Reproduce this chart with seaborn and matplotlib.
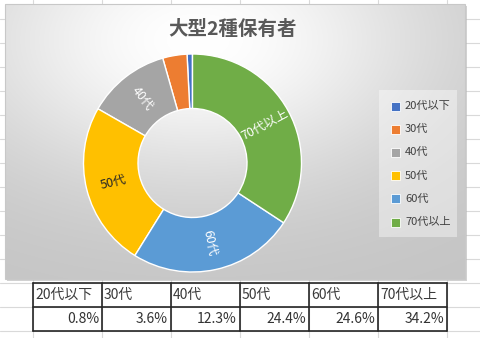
import numpy as np
import matplotlib
matplotlib.use('Agg')
import matplotlib.pyplot as plt
import seaborn as sns
from matplotlib.patches import Rectangle

# ---- data ----
categories = ['20代以下', '30代', '40代', '50代', '60代', '70代以上']
shares = [0.8, 3.6, 12.3, 24.4, 24.6, 34.2]
value_labels = ['0.8%', '3.6%', '12.3%', '24.4%', '24.6%', '34.2%']
title = '大型2種保有者'
colors = ['#4472C4', '#ED7D31', '#A5A5A5', '#FFC000', '#5B9BD5', '#70AD47']
inner_label_colors = [None, None, 'white', '#262626', 'white', 'white']

sns.set_style('white')
plt.rcParams['font.family'] = ['Noto Sans CJK JP', 'DejaVu Sans']
palette = sns.color_palette(colors)

W, H = 480, 338
fig = plt.figure(figsize=(4.8, 3.38), dpi=100)
fig.patch.set_facecolor('white')
bg = fig.add_axes([0, 0, 1, 1])
bg.axis('off')

# Excel cell grid
for x in range(33, W, 69):
    bg.plot([x, x], [0, H], color='#d9d9d9', lw=0.8, zorder=0)
for y in range(19, H, 24):
    bg.plot([0, W], [y, y], color='#d9d9d9', lw=0.8, zorder=0)

# chart area with radial gradient
x0, y0, x1, y1 = 5, 4, 465, 279
bg.add_patch(Rectangle((x0 + 1.5, y0 + 1.5), x1 - x0, y1 - y0, facecolor='#b5b5b5',
                       edgecolor='none', alpha=0.6, zorder=1))
gx = np.linspace(0, 1, 460)
gy = np.linspace(0, 1, 275)
GX, GY = np.meshgrid(gx, gy)
d = np.sqrt((GX - 0.42) ** 2 + (GY - 0.13) ** 2)
val = 0.77 + 0.23 * np.exp(-(d / 0.52) ** 2)
img = np.dstack([val, val, val])
bg.imshow(img, extent=(x0, x1, y1, y0), origin='upper', aspect='auto', zorder=2,
          interpolation='bilinear')
bg.add_patch(Rectangle((x0, y0), x1 - x0, y1 - y0, facecolor='none',
                       edgecolor='#c8c8c8', lw=0.8, zorder=3))
bg.set_xlim(0, W)
bg.set_ylim(H, 0)

# title
bg.text(233, 29, title, ha='center', va='center', fontsize=14, fontweight='bold',
        color='#595959', zorder=5)

# legend (drawn from categories/colors)
bg.add_patch(Rectangle((379, 90), 78, 147, facecolor='white', alpha=0.4,
                       edgecolor='none', zorder=4))
for i, (cat, col) in enumerate(zip(categories, palette)):
    yy = 106 + 23.2 * i
    bg.add_patch(Rectangle((391, yy - 4.5), 9, 9, facecolor=col, edgecolor='white',
                           lw=0.6, zorder=5))
    bg.text(405, yy, cat, ha='left', va='center', fontsize=8, color='#404040', zorder=5)

# table
cols_x = [33 + 69 * k for k in range(len(categories) + 1)]
rows_y = [283, 307, 331]
for i, (cat, vl) in enumerate(zip(categories, value_labels)):
    bg.text(cols_x[i] + 2, 295, cat, ha='left', va='center', fontsize=10,
            color='#3a3a3a', zorder=5)
    bg.text(cols_x[i + 1] - 3, 319, vl, ha='right', va='center', fontsize=10,
            color='#333333', zorder=5)
for yy in rows_y:
    bg.plot([cols_x[0], cols_x[-1]], [yy, yy], color='#262626', lw=1.2, zorder=5)
for xx in cols_x:
    bg.plot([xx, xx], [rows_y[0], rows_y[-1]], color='#262626', lw=1.2, zorder=5)

# donut
cx, cy, R = 192.5, 163, 109
ax = fig.add_axes([(cx - R) / W, (H - cy - R) / H, 2 * R / W, 2 * R / H])
ax.set_zorder(3)
ax.patch.set_alpha(0)
wedges, _ = ax.pie(shares, colors=palette, startangle=90, counterclock=True, radius=1,
                   wedgeprops=dict(width=0.5, edgecolor='white', linewidth=1.0))
ax.set_xlim(-1, 1)
ax.set_ylim(-1, 1)
ax.axis('off')

cum = 0.0
for s, cat, lc in zip(shares, categories, inner_label_colors):
    theta = 90 + 360 * (cum + s / 2) / 100
    cum += s
    if lc is None:
        continue
    rad = np.deg2rad(theta)
    rot = theta % 360
    if 90 < rot < 270:
        rot -= 180
    ax.text(0.75 * np.cos(rad), 0.75 * np.sin(rad), cat, ha='center', va='center',
            rotation=rot, rotation_mode='anchor', fontsize=9, color=lc)

fig.savefig('out.png', dpi=100)
